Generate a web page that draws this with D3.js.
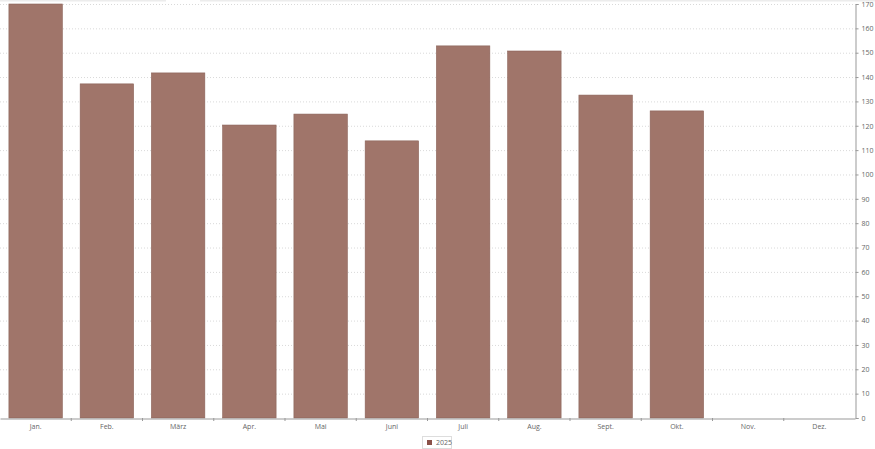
<!DOCTYPE html>
<html><head><meta charset="utf-8">
<script src="https://cdn.jsdelivr.net/npm/d3@7"></script>
<style>
body{margin:0;background:#fff;}
text{font-family:"Segoe UI","Open Sans","DejaVu Sans",sans-serif;}
</style></head>
<body><svg id="c" width="875" height="449"></svg>
<script>
const months = ["Jan.","Feb.","März","Apr.","Mai","Juni","Juli","Aug.","Sept.","Okt.","Nov.","Dez."];
const values2025 = [170,137.2,141.7,120.3,124.8,113.8,152.8,150.7,132.6,126.1,null,null];
const yTicks = [0,10,20,30,40,50,60,70,80,90,100,110,120,130,140,150,160,170];
const seriesName = "2025";

(function(){
const svg = d3.select("#c");
const pL=0, pR=855, pT=4, pB=418;
const x = d3.scaleBand().domain(months).range([pL,pR]).paddingInner(0.25).paddingOuter(0.125);
const y = d3.scaleLinear().domain([0,170]).range([pB,pT]);

// faint top bar
svg.append("rect").attr("x",0).attr("y",0).attr("width",166).attr("height",1.5).attr("fill","#ececec");
svg.append("rect").attr("x",200).attr("y",0).attr("width",675).attr("height",1.5).attr("fill","#ececec");

// grid
svg.append("g").selectAll("line").data(yTicks.filter(d=>d>0)).join("line")
  .attr("x1",pL).attr("x2",pR).attr("y1",d=>y(d)+0.5).attr("y2",d=>y(d)+0.5)
  .attr("stroke","#d9d9d9").attr("stroke-width",1).attr("stroke-dasharray","1,2");

// bars
svg.append("g").selectAll("rect").data(months.map((m,i)=>({m,v:values2025[i]})).filter(d=>d.v!=null)).join("rect")
  .attr("x",d=>x(d.m)).attr("width",x.bandwidth())
  .attr("y",d=>y(d.v)).attr("height",d=>y(0)-y(d.v))
  .attr("fill","#a0756a").attr("stroke","#8a6258").attr("stroke-width",0.6);

// right axis
const ya = svg.append("g").attr("transform",`translate(${pR+0.5},0)`)
  .call(d3.axisRight(y).tickValues(yTicks).tickSize(3).tickPadding(3));
ya.select(".domain").attr("stroke","#999");
ya.selectAll(".tick line").attr("stroke","#999");
ya.selectAll("text").attr("fill","#666").style("font-size","7px");

// x axis
const xa = svg.append("g").attr("transform",`translate(0,${pB+0.5})`)
  .call(d3.axisBottom(x).tickSize(0).tickPadding(6));
xa.select(".domain").attr("stroke","#999");
xa.selectAll("text").attr("fill","#666").style("font-size","7px");
const step = x.step();
svg.append("g").selectAll("line").data(months.slice(1)).join("line")
  .attr("x1",d=>x(d)-x.paddingInner()*step/2).attr("x2",d=>x(d)-x.paddingInner()*step/2)
  .attr("y1",pB).attr("y2",pB+3).attr("stroke","#999");

// legend
const lg = svg.append("g").attr("transform","translate(422,436)");
lg.append("rect").attr("x",0.5).attr("y",0.5).attr("width",29).attr("height",12).attr("fill","#fff").attr("stroke","#ddd");
lg.append("rect").attr("x",5).attr("y",4).attr("width",5).attr("height",5).attr("fill","#8a5048");
lg.append("text").attr("x",14).attr("y",9.3).text(seriesName).attr("fill","#666").style("font-size","7px");
})();
</script></body></html>
